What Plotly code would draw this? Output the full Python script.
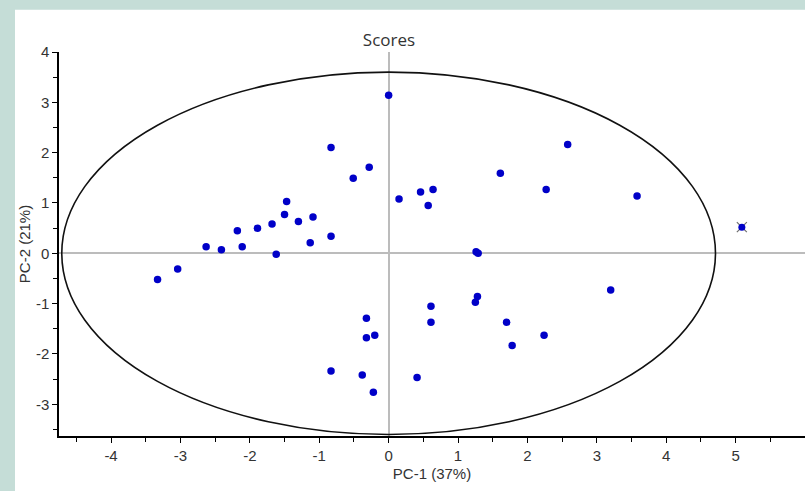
import plotly.graph_objects as go

# Scores (PC-1 vs PC-2)
pc1 = [-3.33, -3.04, -2.63, -2.41, -2.18, -2.11, -1.89, -1.68, -1.62, -1.50,
       -1.47, -1.30, -1.13, -1.09, -0.83, -0.83, -0.51, -0.28, 0.00, 0.15,
       0.46, 0.57, 0.64, 1.26, 1.29, 1.61, 2.27, 2.58, 3.58, 3.20,
       0.61, 0.61, 1.28, 1.25, 1.70, 1.78, 2.24, -0.32, -0.32, -0.20,
       -0.83, -0.38, -0.22, 0.41]
pc2 = [-0.52, -0.31, 0.13, 0.07, 0.45, 0.13, 0.50, 0.58, -0.02, 0.77,
       1.03, 0.63, 0.21, 0.72, 0.34, 2.10, 1.49, 1.71, 3.14, 1.08,
       1.22, 0.95, 1.27, 0.03, 0.00, 1.59, 1.27, 2.16, 1.14, -0.73,
       -1.05, -1.37, -0.86, -0.97, -1.37, -1.83, -1.63, -1.29, -1.68, -1.63,
       -2.34, -2.42, -2.76, -2.47]

# Outlier sample (marked with a cross)
outlier_pc1 = [5.09]
outlier_pc2 = [0.52]

# Hotelling ellipse semi-axes
ellipse_a = 4.71
ellipse_b = 3.60

x_ticks = [-4, -3, -2, -1, 0, 1, 2, 3, 4, 5, 6]
x_tick_labels = ["-4", "-3", "-2", "-1", "0", "1", "2", "3", "4", "5", "6"]
y_ticks = [-3, -2, -1, 0, 1, 2, 3, 4]
y_tick_labels = ["-3", "-2", "-1", "0", "1", "2", "3", "4"]

title_text = "Scores"
x_title = "PC-1 (37%)"
y_title = "PC-2 (21%)"

dot_color = "#0000c8"
text_color = "#333333"
font_family = "Liberation Sans, Arial, sans-serif"

fig = go.Figure()

fig.add_shape(type="rect", xref="paper", yref="paper",
              x0=-0.059, x1=1.05, y0=-0.15, y1=1.11,
              fillcolor="white", line=dict(width=0), layer="below")

fig.add_shape(type="circle", xref="x", yref="y",
              x0=-ellipse_a, x1=ellipse_a, y0=-ellipse_b, y1=ellipse_b,
              line=dict(color="#111111", width=1.6), layer="above")

fig.add_trace(go.Scatter(x=pc1, y=pc2, mode="markers",
                         marker=dict(color=dot_color, size=7.5),
                         showlegend=False, hoverinfo="x+y"))

fig.add_trace(go.Scatter(x=outlier_pc1, y=outlier_pc2, mode="markers",
                         marker=dict(symbol="x-thin", size=10,
                                     line=dict(color="#707070", width=1.2)),
                         showlegend=False, hoverinfo="skip"))
fig.add_trace(go.Scatter(x=outlier_pc1, y=outlier_pc2, mode="markers",
                         marker=dict(color=dot_color, size=7),
                         showlegend=False, hoverinfo="x+y"))

axis_common = dict(
    showgrid=False,
    zeroline=True, zerolinecolor="#bcbcbc", zerolinewidth=2,
    showline=True, linecolor="#000000", linewidth=1.5,
    ticks="outside", ticklen=5, tickwidth=1.2, tickcolor="#000000",
    tickfont=dict(family=font_family, size=15, color=text_color),
    minor=dict(dtick=0.5, ticks="outside", ticklen=4, tickwidth=1.2,
               tickcolor="#000000", showgrid=False),
)

fig.update_xaxes(range=[-4.75, 6.0], tickvals=x_ticks, ticktext=x_tick_labels,
                 title=dict(text=x_title, standoff=6,
                            font=dict(family=font_family, size=15, color=text_color)),
                 **axis_common)
fig.update_yaxes(range=[-3.63, 4.0], tickvals=y_ticks, ticktext=y_tick_labels,
                 title=dict(text=y_title, standoff=2,
                            font=dict(family=font_family, size=15, color=text_color)),
                 **axis_common)

fig.update_layout(
    width=805, height=491,
    margin=dict(l=59, r=0, t=52, b=55, autoexpand=False),
    paper_bgcolor="#c5ddd7",
    plot_bgcolor="white",
    title=dict(text=title_text, x=(389 / 805), xanchor="center",
               y=1 - 40 / 491, yanchor="middle", yref="container",
               font=dict(family="Open Sans, Liberation Sans, sans-serif",
                         size=17, color=text_color)),
)

fig.write_html("out.html",
               config={"displayModeBar": False},
               post_script="document.body.style.margin='0';"
                           "document.body.style.overflow='hidden';")
